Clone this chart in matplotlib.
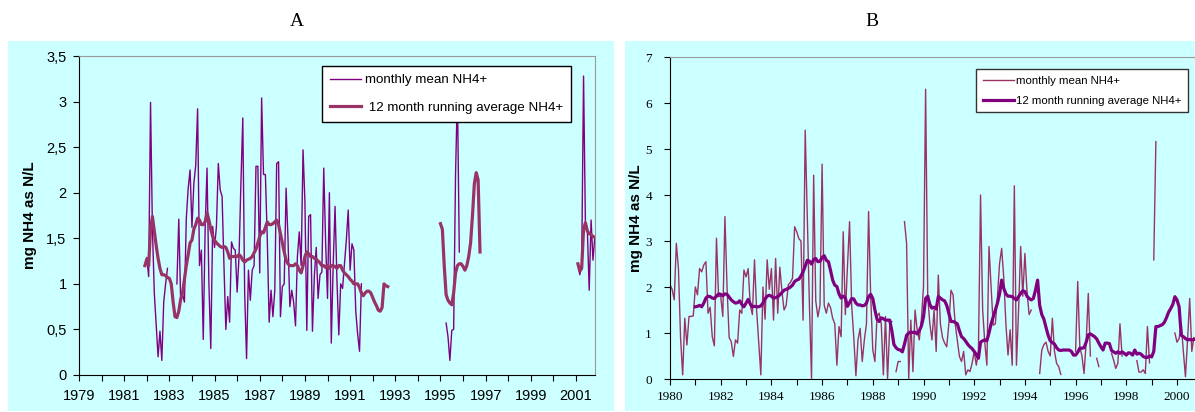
import numpy as np
import matplotlib
matplotlib.use('Agg')
import matplotlib.pyplot as plt
from matplotlib.patches import Rectangle
from matplotlib.lines import Line2D

nan = np.nan

# ---- panel A: monthly mean and 12 month running average (three sampled periods)
a1_start = 1981 + 11 / 12
a1_monthly = [
    1.2, 1.29, 1.08, 2.99, 1.6, 0.9, 0.55, 0.2, 0.48, 0.16,
    0.8, 1.0, 1.17, nan, nan, nan, nan, 1.0, 1.71, 0.82,
    0.88, 0.8, 1.72, 2.05, 2.25, 1.62, 2.1, 2.3, 2.92, 1.2,
    1.37, 0.39, 1.6, 2.27, 1.0, 0.29, 1.63, 1.4, 1.63, 2.32,
    2.03, 1.96, 1.2, 0.5, 0.86, 0.58, 1.46, 1.39, 1.37, 0.91,
    1.3, 2.1, 2.82, 0.9, 0.18, 1.15, 0.82, 1.15, 1.2, 2.29,
    2.29, 1.12, 3.04, 2.2, 2.2, 1.5, 0.58, 0.93, 0.64, 0.93,
    2.32, 2.34, 0.64, 0.97, 1.0, 2.05, 1.5, 0.75, 0.93, 0.8,
    0.54, 1.3, 1.57, 1.2, 2.47, 1.9, 0.49, 1.74, 1.76, 0.48,
    1.08, 1.4, 0.84, 1.1, 1.13, 2.27, 1.45, 0.84, 2.0, 0.35,
    1.2, 1.85, 1.05, 0.44, 1.0, 0.95, 1.22, 1.48, 1.81, 1.15,
    1.44, 1.37, 0.7, 0.45, 0.26, 1.0,
]
a1_running = [
    1.2, 1.27, 1.2, 1.6, 1.74, 1.58, 1.42, 1.28, 1.17, 1.1,
    1.1, 1.09, 1.07, 1.06, 1.0, 0.8, 0.64, 0.63, 0.7, 0.83,
    0.9, 1.05, 1.2, 1.32, 1.45, 1.48, 1.6, 1.65, 1.72, 1.7,
    1.65, 1.65, 1.68, 1.78, 1.7, 1.6, 1.52, 1.48, 1.45, 1.43,
    1.41, 1.4, 1.41, 1.4, 1.35, 1.28, 1.3, 1.3, 1.3, 1.3,
    1.32, 1.3, 1.26, 1.24, 1.26, 1.27, 1.28, 1.3, 1.34, 1.38,
    1.45, 1.52, 1.57, 1.56, 1.62, 1.68, 1.65, 1.65, 1.66, 1.68,
    1.7, 1.65, 1.55, 1.45, 1.35, 1.26, 1.22, 1.2, 1.2, 1.2,
    1.22, 1.2, 1.15, 1.12, 1.2, 1.3, 1.35, 1.33, 1.3, 1.3,
    1.28, 1.27, 1.25, 1.23, 1.2, 1.2, 1.18, 1.2, 1.17, 1.2,
    1.2, 1.19, 1.17, 1.2, 1.2, 1.15, 1.12, 1.1, 1.08, 1.05,
    1.03, 1.0, 1.0, 1.0, 0.96, 0.9, 0.87, 0.9, 0.92, 0.92,
    0.9, 0.85, 0.8, 0.76, 0.71, 0.7, 0.74, 1.0, 0.98, 0.97,
]
a2_monthly_start = 1995 + 3 / 12
a2_monthly = [0.57, 0.42, 0.16, 0.49, 0.5, 2.2, 3.1, 1.35]
a2_running_start = 1995.0
a2_running = [1.66, 1.6, 1.2, 0.88, 0.82, 0.79, 0.77, 0.9, 1.12, 1.2, 1.22,
              1.22, 1.19, 1.15, 1.2, 1.3, 1.45, 1.75, 2.1, 2.22, 2.14, 1.35]
a3_start = 2001 + 1 / 12
a3_monthly = [1.22, 1.1, 1.2, 3.28, 1.63, 1.6, 0.93, 1.7, 1.26, 1.52, 1.5]
a3_running = [1.22, 1.14, 1.17, 1.6, 1.67, 1.58, 1.55, 1.54, 1.52, 1.51]

# ---- panel B: monthly mean from Jan 1980, running average from Jan 1981
b_monthly_start = 1980.0
b_monthly = [
    2.05, 1.95, 1.72, 2.95, 2.4, 0.9, 0.09, 1.32, 0.74, 1.36,
    1.36, 1.37, 2.0, 1.83, 2.4, 2.33, 2.48, 2.55, 1.43, 1.56,
    0.92, 0.72, 3.06, 1.79, 1.8, 1.36, 3.53, 2.0, 0.9, 0.81,
    0.49, 0.85, 0.78, 1.5, 1.43, 2.37, 2.22, 2.4, 1.6, 1.4,
    2.59, 1.5, 0.8, 0.09, 2.0, 1.3, 2.59, 1.95, 2.4, 1.28,
    2.62, 1.43, 2.43, 1.9, 1.5, 1.6, 2.05, 2.1, 2.19, 3.31,
    3.2, 3.05, 3.0, 1.28, 5.41, 3.5, 1.6, 0.01, 4.43, 1.7,
    1.35, 1.6, 4.67, 1.6, 1.43, 1.65, 1.55, 1.32, 1.2, 0.3,
    1.14, 0.92, 3.2, 1.4, 2.44, 3.42, 1.6, 0.9, 0.07, 0.85,
    1.1, 0.38, 0.85, 1.2, 3.64, 1.8, 0.63, 0.38, 1.36, 1.43,
    1.2, 0.09, 1.36, 0.01, 1.14, 1.25, nan, 0.16, 0.38, 0.38,
    nan, 3.42, 2.95, 0.01, 1.28, 0.16, 1.5, 1.07, 0.85, 1.3,
    2.0, 6.3, 1.8, 1.2, 0.85, 1.5, 0.6, 2.26, 1.2, 0.9,
    0.78, 0.7, 1.2, 1.93, 1.83, 1.2, 0.85, 0.49, 0.38, 0.6,
    0.09, 0.2, 0.16, 0.34, 0.6, 0.3, 0.6, 4.0, 1.5, 0.8,
    0.3, 2.88, 2.0, 1.17, 1.2, 1.79, 2.51, 2.84, 2.2, 1.2,
    0.52, 1.07, 0.3, 4.2, 0.3, 1.5, 2.88, 1.8, 2.73, 1.9,
    1.4, 1.5, nan, nan, nan, 0.12, 0.63, 0.75, 0.8, 0.6,
    0.5, 1.32, 0.6, 0.34, 0.27, 0.1, nan, nan, nan, nan,
    nan, nan, 0.6, 2.12, 0.7, 0.5, 0.12, 0.8, 1.86, 0.5,
    nan, nan, 0.45, 0.27, nan, nan, nan, nan, nan, 0.56,
    0.41, 0.23, 0.34, 1.2, 0.5, nan, nan, nan, nan, nan,
    nan, 0.4, 0.15, 0.15, 0.2, 0.12, 1.14, 0.35, nan, 2.59,
    5.16, nan, nan, nan, nan, nan, nan, nan, nan, 1.0,
    0.8, 0.88, 1.2, 0.6, 0.05, 0.85, 1.75, 0.6, 0.9,
]
b_running_start = 1981.0
b_running = [
    1.57, 1.58, 1.6, 1.57, 1.65, 1.76, 1.8, 1.79, 1.76, 1.75,
    1.8, 1.85, 1.84, 1.81, 1.85, 1.84, 1.78, 1.72, 1.68, 1.65,
    1.66, 1.7, 1.62, 1.57, 1.65, 1.73, 1.63, 1.57, 1.58, 1.57,
    1.57, 1.59, 1.65, 1.74, 1.8, 1.82, 1.8, 1.76, 1.77, 1.79,
    1.83, 1.88, 1.93, 1.95, 1.97, 2.0, 2.04, 2.12, 2.15,
    2.17, 2.24, 2.33, 2.45, 2.58, 2.56, 2.5, 2.6, 2.62, 2.55,
    2.56, 2.64, 2.68, 2.58, 2.55, 2.36, 2.15, 2.04, 2.01, 1.85,
    1.76, 1.8, 1.76, 1.58, 1.66, 1.75, 1.74, 1.65, 1.61, 1.61,
    1.59, 1.6, 1.65, 1.79, 1.84, 1.75, 1.5, 1.3, 1.25, 1.33,
    1.31, 1.28, 1.28, 1.28, 1.05, 0.75, 0.68, 0.64, 0.63, 0.59,
    0.76, 0.95, 1.0, 1.02, 1.01, 1.02, 0.98, 1.05, 1.15, 1.35,
    1.75, 1.8, 1.62, 1.54, 1.56, 1.52, 1.79, 1.76, 1.72, 1.7,
    1.6, 1.43, 1.25, 1.25, 1.23, 1.2, 1.05, 0.92, 0.88, 0.82,
    0.75, 0.7, 0.66, 0.6, 0.53, 0.45, 0.8, 0.83, 0.85, 0.83,
    1.0, 1.2, 1.35, 1.5, 1.65, 1.85, 2.15, 1.97, 1.85, 1.8,
    1.8, 1.79, 1.75, 1.72, 1.79, 1.86, 1.92, 1.9, 1.8, 1.75,
    1.72, 1.75, 1.93, 2.15, 1.6, 1.4, 1.3, 1.12, 0.95, 0.83,
    0.79, 0.76, 0.68, 0.63, 0.62, 0.63, 0.63, 0.63, 0.63, 0.6,
    0.52, 0.52, 0.58, 0.67, 0.67, 0.68, 0.8, 0.96, 0.98, 0.95,
    0.92, 0.87, 0.78, 0.7, 0.63, 0.78, 0.78, 0.77, 0.62, 0.59,
    0.56, 0.59, 0.56, 0.59, 0.56, 0.52, 0.57, 0.56, 0.52, 0.63,
    0.54, 0.56, 0.54, 0.49, 0.47, 0.47, 0.5, 0.48, 0.6, 1.14,
    1.14, 1.16, 1.18, 1.23, 1.33, 1.45, 1.53, 1.62, 1.79, 1.72,
    1.57, 0.95, 0.92, 0.88, 0.85, 0.86, 0.85, 0.86,
]

label_monthly = 'monthly mean NH4+'
label_running = '12 month running average NH4+'
ylabel = 'mg NH4 as N/L'

CYAN = '#CCFFFF'
PURPLE = '#800080'
PLUM = '#993366'
W, H = 1195, 412


def months(start, vals):
    return start + np.arange(len(vals)) / 12.0


def fx(px):
    return px / W


def fy(py):
    return 1 - py / H


plt.rcParams['font.family'] = ['Liberation Sans', 'DejaVu Sans']
fig = plt.figure(figsize=(W / 100, H / 100), dpi=100)

# cyan chart areas
for x0, x1 in [(8, 614), (625, 1195)]:
    fig.patches.append(Rectangle((fx(x0), fy(411)), fx(x1) - fx(x0), fy(41) - fy(411),
                                 transform=fig.transFigure, facecolor=CYAN,
                                 edgecolor='none', zorder=-10))

fig.text(fx(297), fy(22), 'A', ha='center', va='center', fontsize=14, family='Liberation Serif')
fig.text(fx(872), fy(22), 'B', ha='center', va='center', fontsize=14, family='Liberation Serif')

# ---------------- panel A
axA = fig.add_axes([fx(79), fy(375), fx(595) - fx(79), fy(56) - fy(375)])
axA.set_facecolor(CYAN)
axA.plot(months(a1_start, a1_monthly), a1_monthly, color=PURPLE, lw=1.0)
axA.plot(months(a2_monthly_start, a2_monthly), a2_monthly, color=PURPLE, lw=1.0)
axA.plot(months(a3_start, a3_monthly), a3_monthly, color=PURPLE, lw=1.0)
axA.plot(months(a1_start, a1_running), a1_running, color=PLUM, lw=2.3)
axA.plot(months(a2_running_start, a2_running), a2_running, color=PLUM, lw=2.3)
axA.plot(months(a3_start, a3_running), a3_running, color=PLUM, lw=2.3)

axA.set_xlim(1979, 2001.84)
axA.set_ylim(0, 3.5)
axA.set_xticks(range(1979, 2002, 2))
axA.set_xticks(range(1980, 2002, 2), minor=True)
yt = np.arange(0, 3.51, 0.5)
axA.set_yticks(yt, labels=[f'{v:g}'.replace('.', ',') for v in yt])
axA.tick_params(which='both', direction='out', length=4, width=0.8, labelsize=10.5)
axA.tick_params(axis='x', pad=6)
axA.tick_params(axis='y', pad=5)
for side in ['top', 'right']:
    axA.spines[side].set_color('#999999')
for side in ['left', 'bottom']:
    axA.spines[side].set_color('black')
axA.set_ylabel(ylabel, fontsize=11, fontweight='bold')
axA.yaxis.set_label_coords(-0.082, 0.5)

legA = axA.legend(
    [Line2D([], [], color=PURPLE, lw=1.0), Line2D([], [], color=PLUM, lw=2.3)],
    [label_monthly, ' ' + label_running],
    loc='upper left', bbox_to_anchor=(fx(322), fy(66)), bbox_transform=fig.transFigure,
    borderaxespad=0, fancybox=False, framealpha=1, edgecolor='black', fontsize=9.6,
    handlelength=2.3, handletextpad=0.3, labelspacing=1.15, borderpad=0.6)
legA.get_frame().set_linewidth(1.0)

# ---------------- panel B
axB = fig.add_axes([fx(670), fy(379), fx(1195) - fx(670), fy(57) - fy(379)])
axB.set_facecolor(CYAN)
axB.plot(months(b_monthly_start, b_monthly), b_monthly, color=PLUM, lw=1.0)
axB.plot(months(b_running_start, b_running), b_running, color=PURPLE, lw=2.3)

axB.set_xlim(1980, 2000.71)
axB.set_ylim(0, 7)
axB.set_xticks(range(1980, 2001, 2))
axB.set_xticks(range(1981, 2001, 2), minor=True)
axB.set_yticks(range(0, 8))
axB.tick_params(which='both', direction='out', length=4, width=0.8, labelsize=9.5)
axB.tick_params(axis='x', pad=5)
axB.tick_params(axis='y', pad=9)
for lab in axB.get_xticklabels() + axB.get_yticklabels():
    lab.set_fontfamily('Liberation Serif')
axB.spines['top'].set_color('#999999')
axB.spines['right'].set_visible(False)
for side in ['left', 'bottom']:
    axB.spines[side].set_color('black')
axB.set_ylabel(ylabel, fontsize=11, fontweight='bold')
axB.yaxis.set_label_coords(-0.051, 0.5)

legB = axB.legend(
    [Line2D([], [], color=PLUM, lw=1.0), Line2D([], [], color=PURPLE, lw=2.3)],
    [label_monthly, label_running],
    loc='upper left', bbox_to_anchor=(fx(976), fy(69)), bbox_transform=fig.transFigure,
    borderaxespad=0, fancybox=False, framealpha=1, edgecolor='#333333', fontsize=8.2,
    handlelength=2.7, handletextpad=0.2, labelspacing=0.85, borderpad=0.6)
legB.get_frame().set_linewidth(1.0)

fig.savefig('out.png', dpi=100)
